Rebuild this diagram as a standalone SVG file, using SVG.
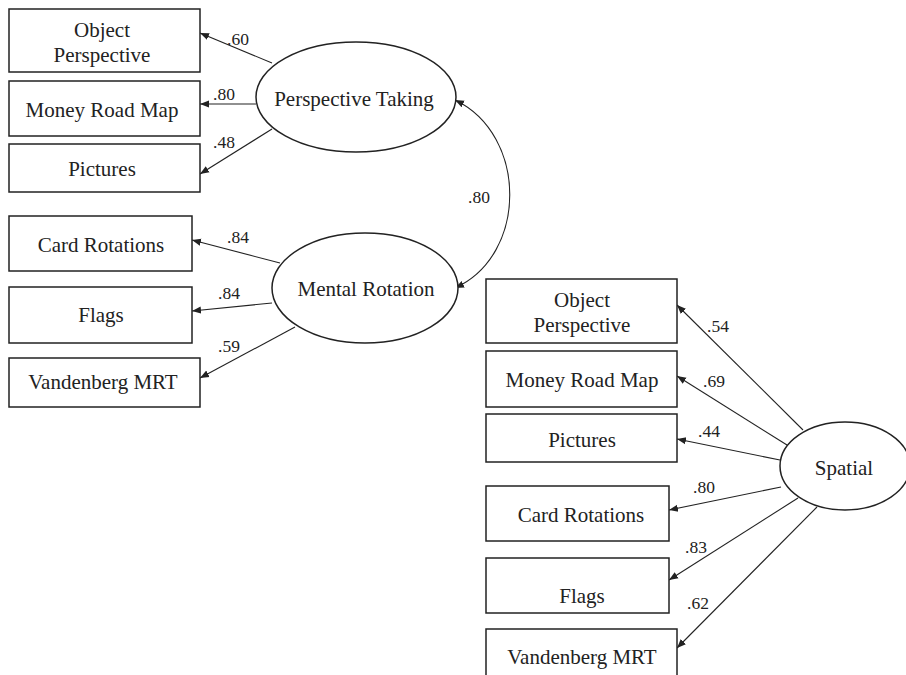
<svg xmlns="http://www.w3.org/2000/svg" width="906" height="675" viewBox="0 0 906 675">
<style>
.box{fill:#fff;stroke:#222;stroke-width:1.5}
.lat{fill:#fff;stroke:#222;stroke-width:1.5}
.t{font-family:"Liberation Serif","Times New Roman",serif;font-size:21px;fill:#222;text-anchor:middle}
.l{font-family:"Liberation Serif","Times New Roman",serif;font-size:17.5px;fill:#222;text-anchor:start}
.c{fill:none;stroke:#222;stroke-width:1.1;marker-end:url(#ah)}
</style>
<defs>
<marker id="ah" viewBox="0 0 10 10" refX="10" refY="5" markerWidth="9" markerHeight="9" markerUnits="userSpaceOnUse" orient="auto-start-reverse">
<path d="M0,1 L10,5 L0,9 z" fill="#222"/>
</marker>
</defs>
<rect width="906" height="675" fill="#fff"/>
<g id="connectors">
<line class="c" x1="272" y1="63" x2="200" y2="33"/>
<line class="c" x1="256" y1="104" x2="200" y2="104"/>
<line class="c" x1="272" y1="129" x2="200" y2="174"/>
<line class="c" x1="280" y1="263" x2="192" y2="240"/>
<line class="c" x1="272" y1="303" x2="192" y2="311"/>
<line class="c" x1="295" y1="327" x2="200" y2="378"/>
<path class="c" d="M455,288 C528,255 528,135 455,100" style="marker-start:url(#ah)"/>
<line class="c" x1="803" y1="430" x2="677" y2="305"/>
<line class="c" x1="787" y1="445" x2="677" y2="376"/>
<line class="c" x1="780" y1="460" x2="677" y2="439"/>
<line class="c" x1="781" y1="487" x2="669" y2="510"/>
<line class="c" x1="798" y1="498" x2="669" y2="580"/>
<line class="c" x1="817" y1="507" x2="677" y2="648"/>
<text class="l" x="227" y="45">.60</text>
<text class="l" x="213" y="100">.80</text>
<text class="l" x="213" y="148">.48</text>
<text class="l" x="227" y="243">.84</text>
<text class="l" x="218" y="299">.84</text>
<text class="l" x="218" y="352">.59</text>
<text class="l" x="468" y="203">.80</text>
<text class="l" x="707" y="332">.54</text>
<text class="l" x="703" y="387">.69</text>
<text class="l" x="698" y="437">.44</text>
<text class="l" x="693" y="493">.80</text>
<text class="l" x="685" y="553">.83</text>
<text class="l" x="687" y="609">.62</text>
</g>
<g id="pt"><ellipse class="lat" cx="356" cy="97" rx="100" ry="55"/><text class="t" x="354" y="106">Perspective Taking</text></g>
<g id="mr"><ellipse class="lat" cx="365" cy="288" rx="93" ry="55"/><text class="t" x="366" y="296">Mental Rotation</text></g>
<g id="sp"><ellipse class="lat" cx="845" cy="466" rx="65" ry="44"/><text class="t" x="844" y="475">Spatial</text></g>
<g id="op1"><rect class="box" x="9" y="9" width="191" height="63"/><text class="t" x="102" y="37">Object</text><text class="t" x="102" y="62">Perspective</text></g>
<g id="mrm1"><rect class="box" x="9" y="81" width="191" height="55"/><text class="t" x="102" y="117">Money Road Map</text></g>
<g id="pic1"><rect class="box" x="9" y="144" width="191" height="48"/><text class="t" x="102" y="176">Pictures</text></g>
<g id="cr1"><rect class="box" x="9" y="216" width="183" height="55"/><text class="t" x="101" y="252">Card Rotations</text></g>
<g id="fl1"><rect class="box" x="9" y="287" width="183" height="56"/><text class="t" x="101" y="322">Flags</text></g>
<g id="vm1"><rect class="box" x="9" y="358" width="191" height="49"/><text class="t" x="103" y="389">Vandenberg MRT</text></g>
<g id="op2"><rect class="box" x="486" y="279" width="191" height="64"/><text class="t" x="582" y="307">Object</text><text class="t" x="582" y="332">Perspective</text></g>
<g id="mrm2"><rect class="box" x="486" y="351" width="191" height="56"/><text class="t" x="582" y="387">Money Road Map</text></g>
<g id="pic2"><rect class="box" x="486" y="414" width="191" height="48"/><text class="t" x="582" y="447">Pictures</text></g>
<g id="cr2"><rect class="box" x="486" y="486" width="183" height="55"/><text class="t" x="581" y="522">Card Rotations</text></g>
<g id="fl2"><rect class="box" x="486" y="558" width="183" height="55"/><text class="t" x="582" y="603">Flags</text></g>
<g id="vm2"><rect class="box" x="486" y="629" width="191" height="60"/><text class="t" x="582" y="664">Vandenberg MRT</text></g>
</svg>
